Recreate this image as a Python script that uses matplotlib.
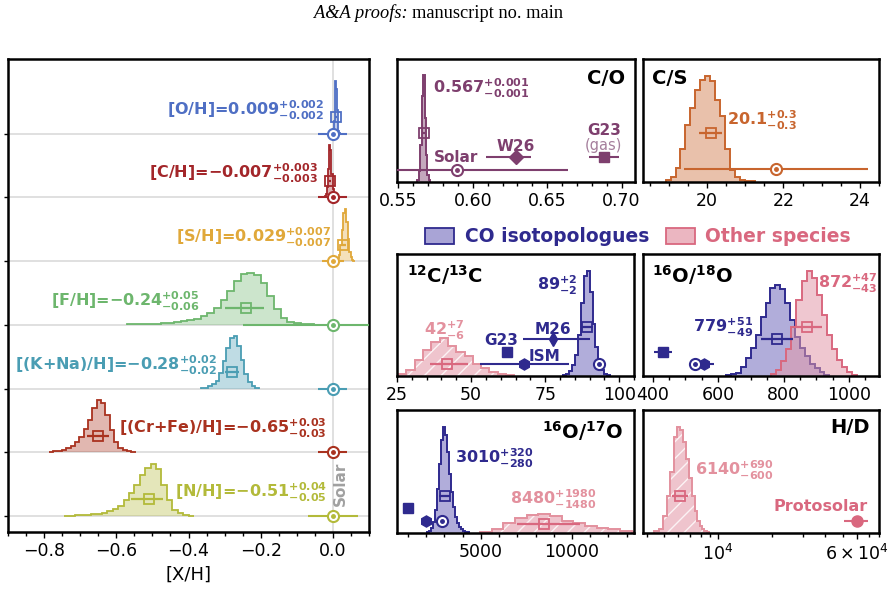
import matplotlib
matplotlib.use("Agg")
import matplotlib.pyplot as plt
import matplotlib.ticker as mtick
import matplotlib.patches as mpatches
import numpy as np

plt.rcParams["font.family"] = "DejaVu Sans"
plt.rcParams["mathtext.fontset"] = "dejavusans"
plt.rcParams["mathtext.default"] = "bf"
plt.rcParams["axes.linewidth"] = 1.8

# ---------------- left panel: [X/H] posteriors ----------------
xh_names = ["[O/H]", "[C/H]", "[S/H]", "[F/H]", "[(K+Na)/H]", "[(Cr+Fe)/H]", "[N/H]"]
xh_median = [0.009, -0.007, 0.029, -0.24, -0.28, -0.65, -0.51]
xh_plus = [0.002, 0.003, 0.007, 0.05, 0.02, 0.03, 0.04]
xh_minus = [0.002, 0.003, 0.007, 0.06, 0.02, 0.03, 0.05]
xh_decimals = [3, 3, 3, 2, 2, 2, 2]
xh_solar_err = [0.04, 0.04, 0.03, 0.25, 0.04, 0.04, 0.07]
xh_colors = ["#4f6fc4", "#a3262a", "#e0a83a", "#6db66d", "#4a9db3", "#a9321f", "#b3ba3a"]

# histogram range (lo, hi) and relative bin heights
xh_hist_lo = [-0.001, -0.022, 0.009, -0.57, -0.365, -0.786, -0.745]
xh_hist_hi = [0.019, 0.008, 0.061, -0.052, -0.205, -0.546, -0.385]
xh_hist_counts = [
    [0.02, 0.08, 0.25, 0.6, 1.0, 0.85, 0.45, 0.15, 0.04, 0.01],
    [0.02, 0.06, 0.2, 0.55, 1.0, 0.9, 0.45, 0.15, 0.04, 0.01],
    [0.02, 0.05, 0.12, 0.3, 0.6, 0.92, 1.0, 0.75, 0.42, 0.18, 0.07, 0.03, 0.01],
    [0.01, 0.01, 0.015, 0.02, 0.02, 0.03, 0.04, 0.05, 0.07, 0.09, 0.12, 0.16, 0.23,
     0.33, 0.48, 0.65, 0.84, 0.97, 1.0, 0.96, 0.8, 0.55, 0.3, 0.14, 0.06, 0.03, 0.015, 0.01],
    [0.01, 0.02, 0.04, 0.08, 0.15, 0.3, 0.52, 0.78, 0.96, 1.0, 0.82, 0.55, 0.28, 0.12, 0.04, 0.015],
    [0.01, 0.02, 0.03, 0.05, 0.08, 0.12, 0.2, 0.3, 0.45, 0.62, 0.85, 1.0, 0.95, 0.72,
     0.42, 0.2, 0.08, 0.04, 0.02, 0.01],
    [0.01, 0.01, 0.015, 0.02, 0.025, 0.03, 0.04, 0.06, 0.09, 0.13, 0.2, 0.3, 0.44, 0.6,
     0.78, 0.92, 1.0, 0.9, 0.6, 0.3, 0.12, 0.05, 0.02, 0.01],
]
xh_label_x = [-0.023, -0.042, -0.004, -0.369, -0.322, -0.593, -0.438]
xh_label_ha = ["right", "right", "right", "right", "right", "left", "left"]

# ---------------- C/O ----------------
co_median, co_plus, co_minus = 0.567, 0.001, 0.001
co_hist_lo, co_hist_hi = 0.5625, 0.5715
co_counts = [0.02, 0.09, 0.3, 0.7, 0.87, 0.52, 0.22, 0.06, 0.02]
co_solar, co_solar_err = 0.589, 0.075
co_w26, co_w26_err = 0.629, (0.02, 0.01)
co_g23, co_g23_err = 0.688, 0.01

# ---------------- C/S ----------------
cs_median, cs_plus, cs_minus = 20.1, 0.3, 0.3
cs_hist_lo, cs_hist_hi = 18.92, 21.26
cs_counts = [0.02, 0.04, 0.11, 0.27, 0.46, 0.6, 0.75, 0.83, 0.86, 0.82, 0.67, 0.54,
             0.27, 0.1, 0.04, 0.02, 0.01, 0.005]
cs_solar, cs_solar_err = 21.8, 2.4

# ---------------- 12C/13C ----------------
c13_co_median, c13_co_plus, c13_co_minus = 89, 2, 2
c13_co_lo, c13_co_hi = 81, 97
c13_co_counts = [0.01, 0.02, 0.04, 0.09, 0.17, 0.34, 0.6, 0.82, 0.86, 0.69, 0.43, 0.24,
                 0.11, 0.05, 0.02, 0.01]
c13_ot_median, c13_ot_plus, c13_ot_minus = 42, 7, 6
c13_ot_lo, c13_ot_hi = 25.4, 64.6
c13_ot_counts = [0.016, 0.05, 0.13, 0.21, 0.28, 0.31, 0.25, 0.2, 0.16, 0.1, 0.063, 0.035,
                 0.02, 0.01]
c13_solar, c13_solar_err = 93.2, 2.2
c13_g23, c13_g23_err = 62.0, 1.0
c13_m26, c13_m26_err = 77.5, (10.0, 12.5)
c13_ism, c13_ism_err = 68.0, 15.0

# ---------------- 16O/18O ----------------
o18_co_median, o18_co_plus, o18_co_minus = 779, 51, 49
o18_co_lo, o18_co_hi = 625, 940
o18_co_counts = [0.008, 0.015, 0.027, 0.077, 0.145, 0.23, 0.34, 0.48, 0.6, 0.72, 0.75,
                 0.71, 0.6, 0.46, 0.32, 0.23, 0.16, 0.1, 0.063, 0.03, 0.01]
o18_ot_median, o18_ot_plus, o18_ot_minus = 872, 47, 43
o18_ot_lo, o18_ot_hi = 762, 1025.5
o18_ot_counts = [0.016, 0.05, 0.12, 0.22, 0.4, 0.62, 0.78, 0.86, 0.8, 0.66, 0.5, 0.34,
                 0.22, 0.13, 0.07, 0.035, 0.012]
o18_g23, o18_g23_err = 432, 28
o18_solar, o18_solar_err = 529, 10
o18_ism, o18_ism_err = 557, 30

# ---------------- 16O/17O ----------------
o17_co_median, o17_co_plus, o17_co_minus = 3010, 320, 280
o17_co_lo, o17_co_hi = 2040, 4350
o17_co_counts = [0.01, 0.02, 0.04, 0.09, 0.19, 0.36, 0.56, 0.76, 0.86, 0.8, 0.66, 0.48,
                 0.33, 0.21, 0.13, 0.08, 0.05, 0.03, 0.02, 0.012, 0.008]
o17_ot_median, o17_ot_plus, o17_ot_minus = 8480, 1980, 1480
o17_ot_lo, o17_ot_hi = 4950, 13910
o17_ot_counts = [0.011, 0.033, 0.079, 0.12, 0.146, 0.154, 0.138, 0.1, 0.079, 0.057,
                 0.038, 0.03, 0.016, 0.01]
o17_g23 = 1000
o17_ism = 2000
o17_solar = 2860

# ---------------- H/D ----------------
hd_median, hd_plus, hd_minus = 6140, 690, 600
hd_lo, hd_hi = 4400, 8900
hd_counts = [0.014, 0.035, 0.14, 0.3, 0.5, 0.78, 0.86, 0.84, 0.74, 0.6, 0.45, 0.3,
             0.18, 0.1, 0.06, 0.035, 0.02, 0.01]
hd_proto, hd_proto_err = 60000, 9000

CO_EDGE = "#2f2a8e"
CO_FILL = "#a9a4d6"
OT_EDGE = "#d9687f"
OT_LIGHT = "#e3919e"
OT_FILL = "#ebb6c1"
CO_RATIO = "#7e3f6e"
CS_COLOR = "#c8652e"


def edges(lo, hi, counts):
    return np.linspace(lo, hi, len(counts) + 1)


def fmt(med, up, lo, nd):
    return f"${med:.{nd}f}^{{+{up:.{nd}f}}}_{{-{lo:.{nd}f}}}$"


def solar_marker(ax, x, y, err, color, ms=8):
    ax.errorbar(x, y, xerr=err, fmt="o", mfc="white", mec=color, ecolor=color,
                ms=ms, mew=1.5, elinewidth=1.5, capsize=0, zorder=5)
    ax.plot(x, y, "o", ms=2.5, color=color, zorder=6)


def median_marker(ax, x, y, minus, plus, color, ms=7):
    ax.errorbar(x, y, xerr=[[minus], [plus]], fmt="s", mfc="none", mec=color,
                ecolor=color, ms=ms, mew=1.3, elinewidth=1.6, capsize=0, zorder=5)


def hist(ax, counts, lo, hi, edge, fill, alpha=0.55, hatch=None, base=0.0, scale=1.0,
         lw=1.4):
    h = np.array(counts) * scale + base
    e = edges(lo, hi, counts)
    if hatch:
        ax.stairs(h, e, baseline=base, fill=True, facecolor=fill, edgecolor="white",
                  hatch=hatch, lw=0, alpha=alpha)
    else:
        ax.stairs(h, e, baseline=base, fill=True, color=fill, alpha=alpha, lw=0)
    ax.stairs(h, e, baseline=base, color=edge, lw=lw)


fig = plt.figure(figsize=(8.94, 5.9), dpi=100)
W, H = 894.0, 590.0


def px_axes(x0, y0, x1, y1):
    return fig.add_axes([x0 / W, 1 - y1 / H, (x1 - x0) / W, (y1 - y0) / H])


fig.text(408 / W, 1 - 13 / H, "A&A proofs:", ha="right", va="center",
         family="Liberation Serif", style="italic", fontsize=13.2)
fig.text(412 / W, 1 - 13 / H, "manuscript no. main", ha="left", va="center",
         family="Liberation Serif", fontsize=13.2)

# ---- left panel ----
ax = px_axes(8, 59, 369, 532)
n = len(xh_names)
for i in range(n):
    base = n - 1 - i
    c = xh_colors[i]
    ax.axhline(base, color="#dddddd", lw=1.3, zorder=0)
    hist(ax, xh_hist_counts[i], xh_hist_lo[i], xh_hist_hi[i], c, c, alpha=0.35,
         base=base, scale=0.82, lw=1.3)
    median_marker(ax, xh_median[i], base + 0.26, xh_minus[i], xh_plus[i], c)
    solar_marker(ax, 0.0, base, xh_solar_err[i], c)
    nd = xh_decimals[i]
    ax.text(xh_label_x[i], base + 0.37,
            xh_names[i] + "=" + fmt(xh_median[i], xh_plus[i], xh_minus[i], nd),
            color=c, fontsize=11.5, fontweight="bold", ha=xh_label_ha[i], va="center")
ax.axvline(0, color="#dddddd", lw=1.3, zorder=0)
ax.text(0.022, 0.5, "Solar", rotation=90, color="#a0a0a0", fontsize=11,
        fontweight="bold", ha="center", va="center")
ax.set_xlim(-0.9, 0.1)
ax.set_ylim(-0.25, 7.17)
ax.set_yticks(range(n))
ax.set_yticklabels([])
ax.xaxis.set_major_locator(mtick.MultipleLocator(0.2))
ax.xaxis.set_minor_locator(mtick.MultipleLocator(0.05))
ax.set_xlabel("[X/H]", fontsize=13)
ax.tick_params(axis="x", labelsize=12.5, length=4, width=1)
ax.tick_params(axis="x", which="minor", length=3, width=1)
ax.tick_params(axis="y", length=3, width=1)


def style_right(ax):
    ax.set_ylim(0, 1)
    ax.set_yticks([])
    ax.tick_params(axis="x", labelsize=12.5, length=4, width=1)
    ax.tick_params(axis="x", which="minor", length=3, width=1)


# ---- C/O ----
ax = px_axes(397, 59, 635, 182)
hist(ax, co_counts, co_hist_lo, co_hist_hi, CO_RATIO, CO_RATIO, alpha=0.45)
median_marker(ax, co_median, 0.40, co_minus, co_plus, CO_RATIO)
solar_marker(ax, co_solar, 0.1, co_solar_err, CO_RATIO)
ax.errorbar(co_w26, 0.2, xerr=[[co_w26_err[0]], [co_w26_err[1]]], fmt="D", color=CO_RATIO,
            ms=7, elinewidth=1.5, capsize=0)
ax.errorbar(co_g23, 0.2, xerr=co_g23_err, fmt="s", color=CO_RATIO, ms=7,
            elinewidth=1.5, capsize=0)
ax.text(0.5735, 0.764, fmt(co_median, co_plus, co_minus, 3), color=CO_RATIO,
        fontsize=11.5, ha="left", va="center")
ax.text(co_solar, 0.2, "Solar", color=CO_RATIO, fontsize=11, fontweight="bold",
        ha="center", va="center")
ax.text(co_w26, 0.29, "W26", color=CO_RATIO, fontsize=11, fontweight="bold",
        ha="center", va="center")
ax.text(co_g23, 0.415, "G23", color=CO_RATIO, fontsize=11, fontweight="bold",
        ha="center", va="center")
ax.text(co_g23, 0.30, "(gas)", color="#a57f9c", fontsize=10.5, ha="center",
        va="center")
ax.text(0.958, 0.845, "C/O", transform=ax.transAxes, fontsize=14, fontweight="bold",
        ha="right", va="center")
ax.set_xlim(0.549, 0.709)
ax.xaxis.set_major_locator(mtick.MultipleLocator(0.05))
ax.xaxis.set_minor_locator(mtick.MultipleLocator(0.01))
ax.xaxis.set_major_formatter(mtick.FormatStrFormatter("%.2f"))
style_right(ax)

# ---- C/S ----
ax = px_axes(643, 59, 879, 182)
hist(ax, cs_counts, cs_hist_lo, cs_hist_hi, CS_COLOR, CS_COLOR, alpha=0.4)
median_marker(ax, cs_median, 0.40, cs_minus, cs_plus, CS_COLOR)
solar_marker(ax, cs_solar, 0.105, cs_solar_err, CS_COLOR)
ax.text(20.52, 0.5, fmt(cs_median, cs_plus, cs_minus, 1), color=CS_COLOR, fontsize=11.5,
        ha="left", va="center")
ax.text(0.04, 0.845, "C/S", transform=ax.transAxes, fontsize=14, fontweight="bold",
        ha="left", va="center")
ax.set_xlim(18.33, 24.5)
ax.xaxis.set_major_locator(mtick.MultipleLocator(2))
ax.xaxis.set_minor_locator(mtick.MultipleLocator(0.5))
style_right(ax)

# ---- legend ----
handles = [
    mpatches.Patch(facecolor=CO_FILL, edgecolor=CO_EDGE, lw=1.3, label="CO isotopologues"),
    mpatches.Patch(facecolor=OT_FILL, edgecolor=OT_EDGE, lw=1.3, label="Other species"),
]
fig.legend(handles=handles, loc="center", bbox_to_anchor=(638 / W, 1 - 236.7 / H),
           ncol=2, frameon=False, prop={"weight": "bold", "size": 13.5},
           labelcolor=[CO_EDGE, OT_EDGE], handlelength=1.55, handleheight=0.9,
           handletextpad=0.55, columnspacing=0.9)

# ---- 12C/13C ----
ax = px_axes(397, 254, 634, 376)
hist(ax, c13_ot_counts, c13_ot_lo, c13_ot_hi, OT_LIGHT, OT_FILL, alpha=0.8, hatch="//")
hist(ax, c13_co_counts, c13_co_lo, c13_co_hi, CO_EDGE, CO_FILL, alpha=0.9)
median_marker(ax, c13_co_median, 0.40, c13_co_minus, c13_co_plus, CO_EDGE)
median_marker(ax, c13_ot_median, 0.10, c13_ot_minus, c13_ot_plus, OT_EDGE)
solar_marker(ax, c13_solar, 0.1, c13_solar_err, CO_EDGE)
ax.errorbar(c13_g23, 0.2, xerr=c13_g23_err, fmt="s", color=CO_EDGE, ms=7,
            elinewidth=1.5, capsize=0)
ax.errorbar(c13_m26, 0.3, xerr=[[c13_m26_err[0]], [c13_m26_err[1]]], fmt="d",
            color=CO_EDGE, ms=7, elinewidth=1.5, capsize=0)
ax.errorbar(c13_ism, 0.1, xerr=c13_ism_err, fmt="h", color=CO_EDGE, ms=8,
            elinewidth=1.5, capsize=0)
ax.text(85.9, 0.746, fmt(c13_co_median, c13_co_plus, c13_co_minus, 0), color=CO_EDGE,
        fontsize=11.5, ha="right", va="center")
ax.text(41.2, 0.377, fmt(c13_ot_median, c13_ot_plus, c13_ot_minus, 0), color=OT_LIGHT,
        fontsize=11.5, ha="center", va="center")
ax.text(60.3, 0.29, "G23", color=CO_EDGE, fontsize=11, fontweight="bold", ha="center",
        va="center")
ax.text(77.6, 0.385, "M26", color=CO_EDGE, fontsize=11, fontweight="bold", ha="center",
        va="center")
ax.text(69.5, 0.16, "ISM", color=CO_EDGE, fontsize=11, fontweight="bold", ha="left",
        va="center")
ax.text(0.042, 0.83, "$^{12}$C/$^{13}$C", transform=ax.transAxes, fontsize=14,
        fontweight="bold", ha="left", va="center")
ax.set_xlim(25, 105)
ax.xaxis.set_major_locator(mtick.MultipleLocator(25))
ax.xaxis.set_minor_locator(mtick.MultipleLocator(5))
style_right(ax)

# ---- 16O/18O ----
ax = px_axes(643, 254, 879, 376)
hist(ax, o18_co_counts, o18_co_lo, o18_co_hi, CO_EDGE, CO_FILL, alpha=0.9)
hist(ax, o18_ot_counts, o18_ot_lo, o18_ot_hi, OT_EDGE, "#e39aaa", alpha=0.55)
median_marker(ax, o18_co_median, 0.30, o18_co_minus, o18_co_plus, CO_EDGE)
median_marker(ax, o18_ot_median, 0.40, o18_ot_minus, o18_ot_plus, OT_EDGE)
ax.errorbar(o18_g23, 0.2, xerr=o18_g23_err, fmt="s", color=CO_EDGE, ms=7,
            elinewidth=1.5, capsize=0)
ax.errorbar(o18_ism, 0.1, xerr=o18_ism_err, fmt="h", color=CO_EDGE, ms=8,
            elinewidth=1.5, capsize=0)
solar_marker(ax, o18_solar, 0.1, o18_solar_err, CO_EDGE)
ax.text(706.8, 0.4, fmt(o18_co_median, o18_co_plus, o18_co_minus, 0), color=CO_EDGE,
        fontsize=11.5, ha="right", va="center")
ax.text(905.4, 0.76, fmt(o18_ot_median, o18_ot_plus, o18_ot_minus, 0), color=OT_EDGE,
        fontsize=11.5, ha="left", va="center")
ax.text(0.04, 0.83, "$^{16}$O/$^{18}$O", transform=ax.transAxes, fontsize=14,
        fontweight="bold", ha="left", va="center")
ax.set_xlim(370, 1092)
ax.xaxis.set_major_locator(mtick.MultipleLocator(200))
ax.xaxis.set_minor_locator(mtick.MultipleLocator(50))
style_right(ax)

# ---- 16O/17O ----
ax = px_axes(397, 410, 634, 533)
hist(ax, o17_ot_counts, o17_ot_lo, o17_ot_hi, OT_LIGHT, OT_FILL, alpha=0.8, hatch="//")
hist(ax, o17_co_counts, o17_co_lo, o17_co_hi, CO_EDGE, CO_FILL, alpha=0.9)
median_marker(ax, o17_co_median, 0.30, o17_co_minus, o17_co_plus, CO_EDGE)
median_marker(ax, o17_ot_median, 0.07, o17_ot_minus, o17_ot_plus, OT_EDGE)
ax.plot(o17_g23, 0.2, "s", color=CO_EDGE, ms=7)
ax.plot(o17_ism, 0.1, "h", color=CO_EDGE, ms=8)
solar_marker(ax, o17_solar, 0.1, 0, CO_EDGE)
ax.text(3575, 0.607, fmt(o17_co_median, o17_co_plus, o17_co_minus, 0), color=CO_EDGE,
        fontsize=11.5, ha="left", va="center")
ax.text(6589, 0.276, fmt(o17_ot_median, o17_ot_plus, o17_ot_minus, 0), color=OT_LIGHT,
        fontsize=11.5, ha="left", va="center")
ax.text(0.953, 0.83, "$^{16}$O/$^{17}$O", transform=ax.transAxes, fontsize=14,
        fontweight="bold", ha="right", va="center")
ax.set_xlim(400, 13400)
ax.xaxis.set_major_locator(mtick.MultipleLocator(5000))
ax.xaxis.set_minor_locator(mtick.MultipleLocator(1000))
style_right(ax)

# ---- H/D ----
ax = px_axes(643, 410, 879, 533)
ax.set_xscale("log")
hist(ax, hd_counts, hd_lo, hd_hi, OT_LIGHT, OT_FILL, alpha=0.8, hatch="//")
median_marker(ax, hd_median, 0.30, hd_minus, hd_plus, OT_EDGE)
ax.errorbar(hd_proto, 0.1, xerr=hd_proto_err, fmt="o", color=OT_EDGE, ms=8,
            elinewidth=1.5, capsize=0)
ax.text(7435, 0.512, fmt(hd_median, hd_plus, hd_minus, 0), color=OT_LIGHT,
        fontsize=11.5, ha="left", va="center")
ax.text(69450, 0.214, "Protosolar", color=OT_EDGE, fontsize=11.5, fontweight="bold",
        ha="right", va="center")
ax.text(0.962, 0.854, "H/D", transform=ax.transAxes, fontsize=14, fontweight="bold",
        ha="right", va="center")
ax.set_xlim(3800, 80000)
ax.xaxis.set_major_locator(mtick.FixedLocator([1e4, 6e4]))
ax.xaxis.set_major_formatter(mtick.FixedFormatter([r"$\mathregular{10^4}$",
                                                   r"$\mathregular{6\times10^4}$"]))
ax.xaxis.set_minor_locator(mtick.LogLocator(subs=np.arange(2, 10)))
ax.xaxis.set_minor_formatter(mtick.NullFormatter())
style_right(ax)

fig.savefig("out.png", dpi=100)
